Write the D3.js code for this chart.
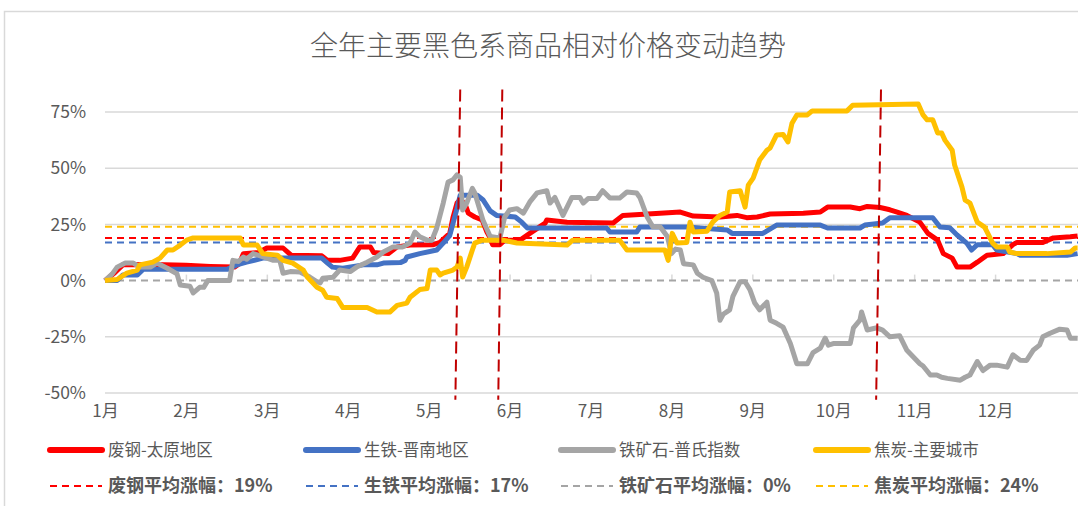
<!DOCTYPE html>
<meta charset="utf-8">
<style>
  body { margin: 0; background: #fff; }
  svg { font-family: "Noto Sans CJK SC", "Noto Sans", sans-serif; }
</style>
<svg width="1078" height="506"></svg>
<script src="https://d3js.org/d3.v7.min.js"></script>
<script>

var title = "全年主要黑色系商品相对价格变动趋势";
var monthLabels = ["1月","2月","3月","4月","5月","6月","7月","8月","9月","10月","11月","12月"];
var yTicks = [-50, -25, 0, 25, 50, 75];

var seriesNames = ["废钢-太原地区", "生铁-晋南地区", "铁矿石-普氏指数", "焦炭-主要城市"];
var avgNames = ["废钢平均涨幅：19%", "生铁平均涨幅：17%", "铁矿石平均涨幅：0%", "焦炭平均涨幅：24%"];
var avgValues = [19, 17, 0, 24];
var colors = ["#ff0000", "#4472c4", "#a5a5a5", "#ffc000"];

// [month position, % change]
var scrap = [[1.00,0],[1.12,3.5],[1.22,7],[1.6,7.2],[2.0,6.8],[2.3,6.3],[2.6,6],[2.66,7.5],[2.71,12],[2.9,12.5],[3.0,14.5],
  [3.2,14.5],[3.3,11.3],[3.68,11],[3.75,9],[3.9,9],[4.06,10],[4.15,15],[4.28,15],[4.32,12.5],[4.5,12],[4.56,13.6],
  [4.61,15],[4.77,15.8],[5.06,16],[5.14,17],[5.2,19],[5.26,21],[5.3,28],[5.35,34.5],[5.39,36],[5.45,34],[5.49,30],
  [5.57,28.3],[5.66,27],[5.72,21.6],[5.76,19],[5.79,16],[5.88,16],[5.94,18],[6.13,18],[6.25,21],[6.44,25.6],[6.46,27],
  [6.71,26],[7.28,25.6],[7.40,29],[7.86,30],[8.11,30.5],[8.27,28.7],[8.6,28.3],[8.81,29],[8.93,28],[9.06,28.3],
  [9.22,29.6],[9.63,30],[9.84,30.5],[9.93,32.7],[10.21,32.7],[10.33,32],[10.42,33],[10.58,32.5],[10.7,31.5],
  [10.79,30.5],[10.91,29],[11.07,26],[11.17,21],[11.29,18],[11.36,12],[11.47,10],[11.53,6],[11.69,6],[11.78,8.2],
  [11.90,11.3],[12.1,12],[12.22,16],[12.27,17],[12.59,17],[12.72,19],[12.93,19.5],[13.02,19.8]];

var pigIron = [[1.00,0],[1.15,0],[1.22,2.5],[1.40,2.5],[1.47,5],[2.51,5],[2.63,7],[2.75,8.2],[2.95,10],[3.68,10],
  [3.75,7.8],[3.81,6],[3.94,5.5],[4.19,7],[4.36,7],[4.44,7.8],[4.65,8],[4.71,9],[4.73,10.5],[4.89,12],[5.10,13.6],
  [5.18,16.7],[5.26,20],[5.35,32],[5.39,38],[5.60,38],[5.67,36],[5.76,31],[5.84,29],[6.07,28.3],[6.15,26],[6.22,23.4],
  [7.20,23.4],[7.24,21.6],[7.57,21.6],[7.61,23.8],[8.19,23.8],[8.69,22.5],[8.75,21],[9.13,21],[9.30,24.7],[9.84,24.7],
  [9.93,23.4],[10.33,23.4],[10.39,24.7],[10.61,25.6],[10.70,28],[11.23,28],[11.32,23.8],[11.44,23.5],[11.53,20.3],
  [11.65,16.7],[11.71,13.6],[11.78,16],[11.97,16],[12.02,13.6],[12.27,12],[12.31,11.3],[12.89,11.3],[13.02,12]];

var ironOre = [[1.00,0],[1.09,3],[1.15,6],[1.25,7.8],[1.35,7.8],[1.43,6],[1.56,6],[1.64,7.8],[1.77,5.5],[1.89,3],
  [1.93,-2],[2.05,-2.5],[2.09,-5.5],[2.17,-3],[2.22,-3],[2.27,0],[2.54,0],[2.58,9],[2.65,8.5],[2.71,10.5],[2.75,9.5],
  [2.83,12],[2.92,11],[3.08,9],[3.16,9],[3.20,3.3],[3.29,4],[3.41,3.8],[3.53,1.6],[3.62,-0.5],[3.66,-1],[3.69,1],
  [3.82,1.5],[3.90,4.7],[4.03,4],[4.11,6],[4.24,8.2],[4.36,10.5],[4.44,12.7],[4.56,15],[4.68,15],[4.77,16.7],
  [4.83,21.6],[4.89,19.5],[4.98,18],[5.04,18],[5.10,23.4],[5.18,34.5],[5.24,43.8],[5.30,44.8],[5.35,47],[5.39,46],
  [5.42,31.4],[5.47,34.5],[5.54,41],[5.57,39],[5.67,27],[5.76,19.6],[5.88,19],[5.94,28.3],[6.00,31.4],[6.09,32],
  [6.17,30],[6.25,35],[6.34,39],[6.46,40],[6.50,34.5],[6.56,37],[6.66,29],[6.77,37],[6.87,37],[6.91,34.5],
  [6.97,36.5],[7.08,36.5],[7.15,40],[7.24,36.7],[7.36,36.7],[7.45,39.4],[7.57,39],[7.61,37],[7.70,28.3],[7.77,24],
  [7.86,24],[7.95,19.6],[8.0,12],[8.05,14],[8.11,13.6],[8.15,7.5],[8.27,7],[8.32,3.3],[8.39,1.5],[8.50,0],
  [8.56,-5.6],[8.60,-17.6],[8.64,-15],[8.72,-13],[8.76,-7],[8.85,-0.5],[8.91,-0.5],[8.97,-4],[9.03,-10],[9.09,-13],
  [9.18,-9.6],[9.22,-17.6],[9.30,-19],[9.38,-20.7],[9.47,-28],[9.55,-37],[9.68,-37],[9.75,-32],[9.84,-30],
  [9.90,-25.6],[9.94,-28.7],[10.00,-28],[10.21,-28],[10.25,-21],[10.33,-17.6],[10.35,-14],[10.42,-22],[10.54,-21],
  [10.61,-22],[10.70,-25],[10.82,-24.5],[10.91,-31],[10.99,-34],[11.07,-37],[11.11,-38],[11.20,-42],[11.28,-42],
  [11.34,-43],[11.41,-43.5],[11.57,-44.3],[11.63,-43],[11.69,-42],[11.78,-36],[11.85,-40],[11.94,-37.6],
  [12.02,-37.6],[12.15,-38.5],[12.22,-33],[12.31,-35.4],[12.39,-35.5],[12.47,-31],[12.55,-28.7],[12.59,-25],
  [12.68,-23.4],[12.80,-21.6],[12.89,-22],[12.93,-25.6],[13.02,-25.6]];

var coke = [[1.00,0],[1.15,0.5],[1.27,3.3],[1.40,4.7],[1.43,7],[1.59,8.2],[1.68,10],[1.77,13.6],[1.84,13.6],
  [1.93,15.8],[2.01,18],[2.09,19],[2.67,19],[2.71,15.8],[2.88,15.8],[2.95,12],[3.13,11.3],[3.20,9],[3.32,7.8],
  [3.45,4.7],[3.50,1.6],[3.62,-3],[3.69,-4.3],[3.74,-7.4],[3.87,-8],[3.94,-12],[4.24,-12],[4.36,-14],[4.52,-14],
  [4.61,-11],[4.73,-10],[4.77,-7.4],[4.89,-4],[4.98,-3.5],[5.02,4.7],[5.10,4.7],[5.14,2.5],[5.18,3.3],[5.30,4.7],
  [5.35,6],[5.39,10],[5.42,1.6],[5.47,6],[5.54,13.6],[5.57,16.7],[5.66,18],[5.92,18],[6.09,16.7],[6.71,15.8],
  [6.78,18],[7.36,18],[7.45,13.6],[7.92,13.6],[7.96,9],[8.01,21],[8.07,16.7],[8.19,17],[8.23,26],[8.27,21.6],
  [8.44,22],[8.51,26],[8.60,29],[8.69,30.5],[8.72,39.4],[8.85,40],[8.91,32.7],[8.95,42.5],[9.01,45.6],[9.09,53.6],
  [9.18,58],[9.22,59],[9.30,64.8],[9.38,65],[9.44,61.7],[9.49,70],[9.55,73.7],[9.68,73.7],[9.74,75.5],[10.17,75.5],
  [10.24,78],[11.05,78.6],[11.11,73.7],[11.16,71.5],[11.23,71.5],[11.29,65.7],[11.34,65.7],[11.38,62.5],[11.47,58],
  [11.50,51.4],[11.59,41.7],[11.63,35.8],[11.69,34.5],[11.78,26],[11.87,23.8],[11.91,21],[11.97,16.7],[12.02,15],
  [12.15,15],[12.18,12.7],[12.27,12],[12.64,12],[12.93,12.7],[12.99,14.5],[13.02,14.5]];

// event markers, drawn by hand in the original so slightly slanted: [x at top, x at bottom]
var markers = [[5.39, 5.33], [5.91, 5.86], [10.59, 10.53]];
var markerSpan = [85, -53];

var series = [scrap, pigIron, ironOre, coke];

var svg = d3.select("svg");

var x = d3.scaleLinear().domain([1, 13]).range([105, 1076]);
var y = d3.scaleLinear().domain([-50, 75]).range([393, 112]);

// outer frame
svg.append("rect")
    .attr("x", 4.5).attr("y", 11.5)
    .attr("width", 1090).attr("height", 520)
    .attr("fill", "none").attr("stroke", "#d9d9d9").attr("stroke-width", 1.5);

svg.append("text")
    .attr("x", 548).attr("y", 56)
    .attr("text-anchor", "middle")
    .attr("font-size", 28).attr("font-weight", 300)
    .attr("fill", "#595959")
    .text(title);

// gridlines
svg.append("g")
    .selectAll("line")
    .data(yTicks.filter(d => d !== 0))
    .enter().append("line")
    .attr("x1", x(1)).attr("x2", 1078)
    .attr("y1", d => y(d)).attr("y2", d => y(d))
    .attr("stroke", "#d9d9d9").attr("stroke-width", 1.5);

// y axis labels
var yAxis = svg.append("g")
    .attr("transform", "translate(" + 89 + ",0)")
    .call(d3.axisLeft(y).tickValues(yTicks).tickSize(0).tickFormat(d => d + "%"));
yAxis.select(".domain").remove();
yAxis.selectAll("text").attr("font-size", 17.5).attr("fill", "#595959")
    .attr("font-family", "'Noto Sans CJK SC', sans-serif");

// tick marks on the zero line
var tickAxis = svg.append("g")
    .attr("transform", "translate(0," + y(0) + ")")
    .call(d3.axisTop(x).tickValues(d3.range(2, 13)).tickSize(6).tickFormat(""));
tickAxis.select(".domain").remove();
tickAxis.selectAll("line").attr("stroke", "#d9d9d9").attr("stroke-width", 1.5);

// month labels
var xAxis = svg.append("g")
    .attr("transform", "translate(0,402)")
    .call(d3.axisBottom(x).tickValues(d3.range(1, 13)).tickSize(0)
        .tickFormat((d, i) => monthLabels[i]));
xAxis.select(".domain").remove();
xAxis.selectAll("text").attr("font-size", 17).attr("fill", "#595959")
    .attr("font-family", "'Noto Sans CJK SC', sans-serif");

// average lines
svg.append("g")
    .selectAll("line")
    .data(avgValues)
    .enter().append("line")
    .attr("x1", x(1)).attr("x2", 1078)
    .attr("y1", d => y(d)).attr("y2", d => y(d))
    .attr("stroke", (d, i) => colors[i])
    .attr("stroke-width", 2)
    .attr("stroke-dasharray", "7,5");

var line = d3.line()
    .x(d => x(d[0]))
    .y(d => y(d[1]));

// series order as in the original: scrap first, coke on top
svg.append("g")
    .selectAll("path")
    .data(series)
    .enter().append("path")
    .attr("d", line)
    .attr("fill", "none")
    .attr("stroke", (d, i) => colors[i])
    .attr("stroke-width", 5)
    .attr("stroke-linejoin", "round");

svg.append("g")
    .selectAll("line")
    .data(markers)
    .enter().append("line")
    .attr("x1", d => x(d[0])).attr("x2", d => x(d[1]))
    .attr("y1", y(markerSpan[0])).attr("y2", y(markerSpan[1]))
    .attr("stroke", "#c00000")
    .attr("stroke-width", 2)
    .attr("stroke-dasharray", "12,6");

// legend
var legendX = [50, 306, 561, 816];
var leg1 = svg.append("g").selectAll("g")
    .data(seriesNames).enter().append("g")
    .attr("transform", (d, i) => "translate(" + legendX[i] + ",450)");
leg1.append("line")
    .attr("x1", 0).attr("x2", 52)
    .attr("stroke", (d, i) => colors[i])
    .attr("stroke-width", 6).attr("stroke-linecap", "round");
leg1.append("text")
    .attr("x", 58).attr("y", 6)
    .attr("font-size", 16.5).attr("fill", "#595959")
    .text(d => d);

var leg2 = svg.append("g").selectAll("g")
    .data(avgNames).enter().append("g")
    .attr("transform", (d, i) => "translate(" + legendX[i] + ",486)");
leg2.append("line")
    .attr("x1", 0).attr("x2", 52)
    .attr("stroke", (d, i) => colors[i])
    .attr("stroke-width", 2).attr("stroke-dasharray", "7,5");
leg2.append("text")
    .attr("x", 58).attr("y", 6)
    .attr("font-size", 18).attr("font-weight", "bold").attr("fill", "#595959")
    .text(d => d);

</script>
